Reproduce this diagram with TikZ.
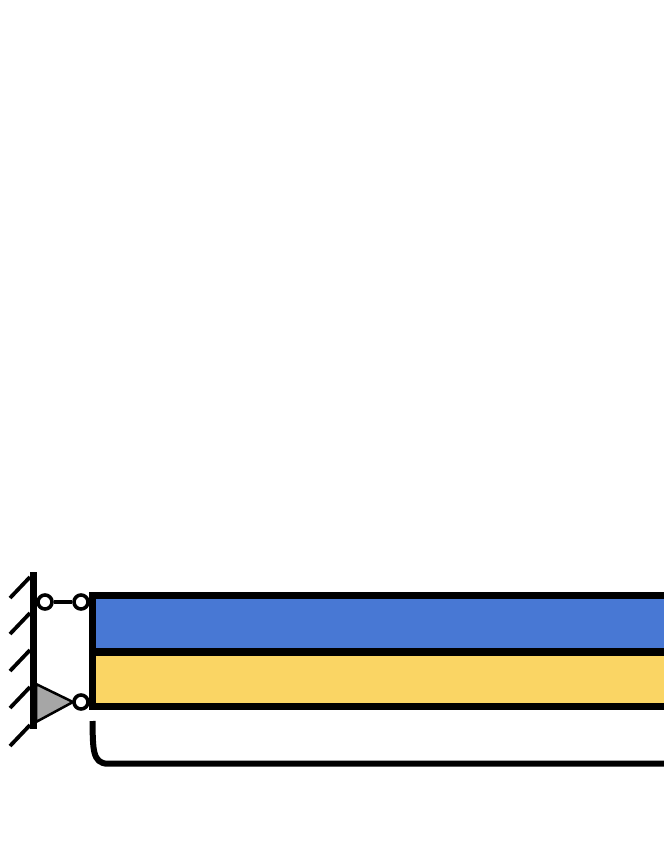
\documentclass[tikz,border=0pt]{standalone}
\usepackage{color}
\usetikzlibrary{positioning}
\definecolor{layerblue}{HTML}{4878D4}
\definecolor{layeryellow}{HTML}{FAD564}
\definecolor{supportgray}{HTML}{A6A6A6}

\begin{document}
\begin{tikzpicture}[x=1pt,y=-1pt,
  pin node/.style={circle,draw,fill=white,line width=3.6pt,inner sep=0pt,minimum size=14pt},
  hatch line/.style={line width=3.8pt},
  layer band/.style={draw,line width=7pt}]

  \clip (0,0) rectangle (664,860);
  \fill[white] (0,0) rectangle (664,860);

  % layers
  \filldraw[layer band,fill=layerblue] (92.7,595.5) rectangle (680,651);
  \filldraw[layer band,fill=layeryellow] (92.7,652) rectangle (680,706);

  % wall
  \coordinate (walltop) at (33,572);
  \coordinate (wallbot) at (33,729);
  \foreach \y in {577,613,650,687,725}
    \draw[hatch line] (30,\y) -- (10,\y+21);
  \draw[line width=7pt] (walltop) -- (wallbot);

  % support
  \coordinate (tria) at (36,684);
  \coordinate (trib) at (36,722);
  \coordinate (tric) at (73,702);
  \filldraw[fill=supportgray,line width=2.5pt,line join=miter] (tria) -- (tric) -- (trib) -- cycle;

  % pins
  \node[pin node] (1) at (45,602) {};
  \node[pin node] (2) [right=18.4pt of 1] {};
  \node[pin node] (3) at (81,702) {};
  \draw[line width=3.5pt] (1) -- (2);

  % bracket
  \coordinate (bracetop) at (92.5,721);
  \coordinate (braceend) at (680,763.7);
  \draw[line width=6pt] (bracetop) .. controls (93,748) and (92,763.7) .. (108,763.7) -- (braceend);
\end{tikzpicture}
\end{document}
